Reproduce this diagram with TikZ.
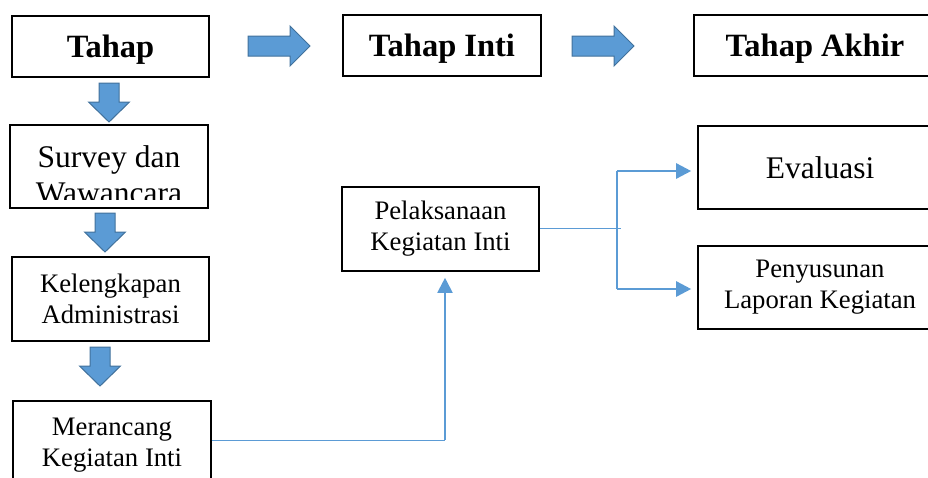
\documentclass[tikz,border=0pt]{standalone}
\usepackage{fontspec}
\setmainfont{Liberation Serif}
\usetikzlibrary{arrows.meta}
\definecolor{blk}{HTML}{5B9BD5}
\definecolor{blkline}{HTML}{41719C}
\begin{document}
\begin{tikzpicture}[x=1pt,y=-1pt,
  box/.style={draw=black,line width=1.6pt,rectangle,inner sep=0pt},
  title/.style={font=\fontsize{32.5}{36}\selectfont\bfseries,text height=22pt,text depth=0pt},
  small/.style={font=\fontsize{26.7}{31}\selectfont,align=center},
  big/.style={font=\fontsize{31.5}{36}\selectfont,align=center},
  conn/.style={draw=blk,line width=1pt},
  tipped/.style={-{Triangle[length=15pt,width=15pt]},shorten >=6pt},
  rblock/.pic={\filldraw[fill=blk,draw=blkline,line width=1pt]
    (0,-10) -- (42,-10) -- (42,-20) -- (62,0) -- (42,20) -- (42,10) -- (0,10) -- cycle;},
  dblock/.pic={\filldraw[fill=blk,draw=blkline,line width=1pt]
    (-10,0) -- (10,0) -- (10,19) -- (20.5,19) -- (0,39) -- (-20.5,19) -- (-10,19) -- cycle;}]
\useasboundingbox (0,0) rectangle (928,477);

% boxes
\node[box,title,minimum width=197pt,minimum height=61pt] (A) at (110.5,46.5) {Tahap};
\node[box,title,minimum width=198pt,minimum height=61pt] (B) at (442,45.5) {Tahap Inti};
\node[box,title,minimum width=242pt,minimum height=61pt] (C) at (815,45.5) {Tahap Akhir};
\node[box,minimum width=198pt,minimum height=83pt] (D) at (109,166.5) {};
\begin{scope}
  \clip (10,125) rectangle (208,199);
  \node[big] (Dt) at (109,174.5) {Survey dan\\Wawancara};
\end{scope}
\node[box,small,minimum width=197pt,minimum height=84pt] (E) at (110.5,299) {Kelengkapan\\Administrasi};
\node[box,small,minimum width=198pt,minimum height=88pt] (F) at (112,445) {Merancang\\Kegiatan Inti};
\node[box,small,minimum width=197pt,minimum height=84pt] (G) at (440.5,229) {Pelaksanaan\\Kegiatan Inti};
\node[box,big,minimum width=244pt,minimum height=83pt] (H) at (820,167.5) {Evaluasi};
\node[box,small,minimum width=244pt,minimum height=83pt] (I) at (820,287.5) {Penyusunan\\Laporan Kegiatan};

% block arrows
\pic at (248,46) {rblock};
\pic at (572,46) {rblock};
\pic at (109,83) {dblock};
\pic at (105,213) {dblock};
\pic at (100,347) {dblock};

% connectors
\coordinate (j1) at (445,440);
\draw[conn] (F.east |- j1) -- (j1);
\draw[conn,line width=2pt,tipped] (j1) -- (G.south -| j1);
\coordinate (j2) at (617,228);
\coordinate (j3) at (617,171);
\coordinate (j4) at (617,289);
\draw[conn] (G.east |- j2) -- ([xshift=4pt]j2);
\draw[conn,line width=1.5pt] (j3) -- (j4);
\draw[conn,line width=2.5pt,tipped] (j3) -- (H.west |- j3);
\draw[conn,line width=2.5pt,tipped] (j4) -- (I.west |- j4);
\end{tikzpicture}
\end{document}
